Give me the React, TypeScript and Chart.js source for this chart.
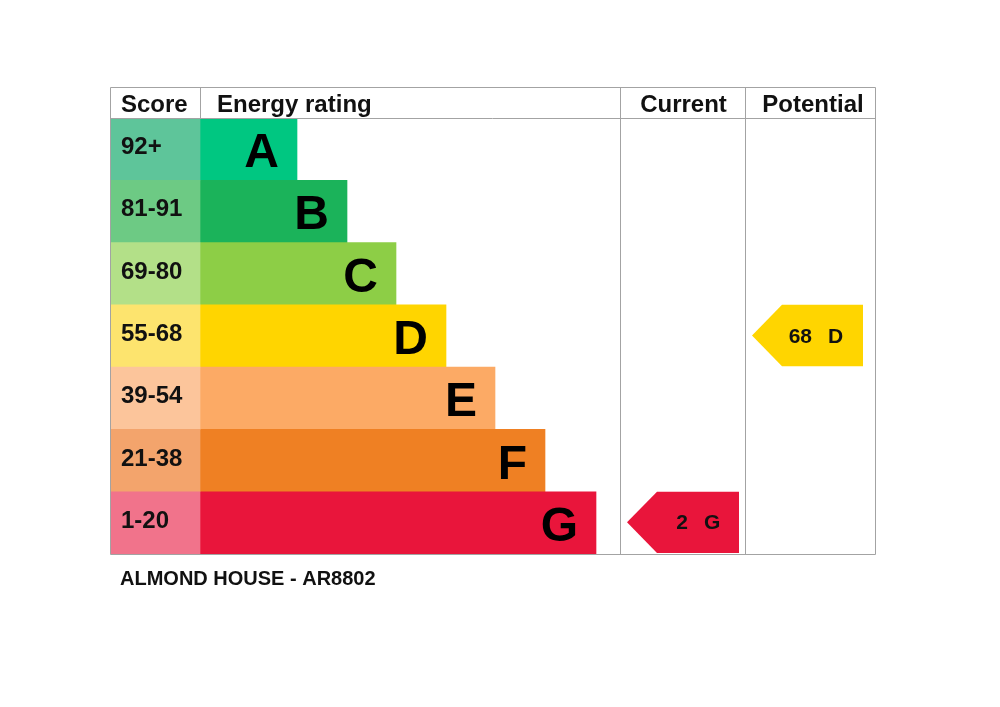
import React, { useEffect, useRef } from "react";
import { Chart, registerables } from "chart.js";
Chart.register(...registerables);

const categories = ["A", "B", "C", "D", "E", "F", "G"];
const scoreLabels = ["92+", "81-91", "69-80", "55-68", "39-54", "21-38", "1-20"];
const bandMins = [92, 81, 69, 55, 39, 21, 1];
const barLengths = [97, 147, 196, 246, 295, 345, 396];
const columnEdges = [0, 90, 510, 635, 765];
const headerLabels = ["Score", "Energy rating", "Current", "Potential"];
const currentScore = 2;
const potentialScore = 68;
const caption = "ALMOND HOUSE - AR8802";
const barColors = ["#00c781", "#1bb35a", "#8dce46", "#ffd500", "#fcaa65", "#ef8023", "#e9153b"];
const scoreColors = ["#5ec59a", "#6dca84", "#b3e088", "#fde46e", "#fcc59b", "#f3a46c", "#f1738b"];

const FONT = '"Liberation Sans", Arial, sans-serif';

function bandIndex(score: number) {
  for (let i = 0; i < bandMins.length; i++) if (score >= bandMins[i]) return i;
  return bandMins.length - 1;
}

const tablePlugin = {
  id: "epcTable",
  afterDatasetsDraw(chart: any) {
    const { ctx, chartArea, scales } = chart;
    const xs = scales.x;
    const px = (v: number) => Math.round(xs.getPixelForValue(v));
    const top = Math.round(chartArea.top);
    const bottom = Math.round(chartArea.bottom);
    const headerTop = top - 31;
    const left = px(columnEdges[0]);
    const right = px(columnEdges[columnEdges.length - 1]);
    const bandH = (chartArea.bottom - chartArea.top) / categories.length;
    ctx.save();

    // score labels
    ctx.fillStyle = "#111";
    ctx.font = `bold 24px ${FONT}`;
    ctx.textAlign = "left";
    ctx.textBaseline = "alphabetic";
    const scoreMeta = chart.getDatasetMeta(0);
    scoreLabels.forEach((s, i) => {
      const el = scoreMeta.data[i];
      ctx.fillText(s, px(columnEdges[0]) + 11, el.y + 5);
    });

    // letters on bars
    const barMeta = chart.getDatasetMeta(1);
    ctx.font = `bold 48px ${FONT}`;
    ctx.textAlign = "right";
    ctx.fillStyle = "#000";
    categories.forEach((c, i) => {
      const el = barMeta.data[i];
      ctx.fillText(c, el.x - 18, el.y + 18);
    });

    // table lines
    ctx.strokeStyle = "#a3a3a3";
    ctx.lineWidth = 1;
    ctx.beginPath();
    ctx.rect(left + 0.5, headerTop + 0.5, right - left, bottom - headerTop);
    ctx.moveTo(left, top + 0.5);
    ctx.lineTo(right, top + 0.5);
    ctx.moveTo(px(columnEdges[1]) + 0.5, headerTop);
    ctx.lineTo(px(columnEdges[1]) + 0.5, top);
    for (let k = 2; k < columnEdges.length - 1; k++) {
      ctx.moveTo(px(columnEdges[k]) + 0.5, headerTop);
      ctx.lineTo(px(columnEdges[k]) + 0.5, bottom);
    }
    ctx.stroke();

    // header texts
    ctx.fillStyle = "#111";
    ctx.font = `bold 24px ${FONT}`;
    ctx.textAlign = "left";
    ctx.fillText(headerLabels[0], px(columnEdges[0]) + 11, top - 6);
    ctx.fillText(headerLabels[1], px(columnEdges[1]) + 17, top - 6);
    ctx.textAlign = "center";
    ctx.fillText(headerLabels[2], (px(columnEdges[2]) + px(columnEdges[3])) / 2 + 1, top - 6);
    ctx.fillText(headerLabels[3], (px(columnEdges[3]) + px(columnEdges[4])) / 2 + 3, top - 6);

    // arrows
    const drawArrow = (score: number, colStart: number, colEnd: number, padL: number, padR: number) => {
      const i = bandIndex(score);
      const bt = chartArea.top + i * bandH;
      const bb = chartArea.top + (i + 1) * bandH - 1;
      const cy = (bt + bb) / 2;
      const l = px(colStart) + padL;
      const r = px(colEnd) - padR;
      ctx.fillStyle = barColors[i];
      ctx.beginPath();
      ctx.moveTo(l, cy);
      ctx.lineTo(l + 30, bt);
      ctx.lineTo(r, bt);
      ctx.lineTo(r, bb);
      ctx.lineTo(l + 30, bb);
      ctx.closePath();
      ctx.fill();
      ctx.fillStyle = "#111";
      ctx.font = `bold 21px ${FONT}`;
      ctx.textAlign = "right";
      ctx.fillText(String(score), r - 51, cy + 7);
      ctx.textAlign = "left";
      ctx.fillText(categories[i], r - 35, cy + 7);
    };
    drawArrow(currentScore, columnEdges[2], columnEdges[3], 7, 6);
    drawArrow(potentialScore, columnEdges[3], columnEdges[4], 7, 12);

    // caption
    ctx.fillStyle = "#111";
    ctx.font = `bold 20px ${FONT}`;
    ctx.textAlign = "left";
    ctx.fillText(caption, px(columnEdges[0]) + 10, bottom + 31);

    ctx.restore();
  },
};

export default function App() {
  const ref = useRef<HTMLCanvasElement | null>(null);
  useEffect(() => {
    if (!ref.current) return;
    const chart = new Chart(ref.current, {
      type: "bar",
      data: {
        labels: categories,
        datasets: [
          {
            data: categories.map(() => [columnEdges[0], columnEdges[1]]) as any,
            backgroundColor: scoreColors,
            borderWidth: 0,
            grouped: false,
            barPercentage: 1,
            categoryPercentage: 1,
          } as any,
          {
            data: barLengths.map((l) => [columnEdges[1], columnEdges[1] + l]) as any,
            backgroundColor: barColors,
            borderWidth: 0,
            grouped: false,
            barPercentage: 1,
            categoryPercentage: 1,
          } as any,
        ],
      },
      options: {
        indexAxis: "y",
        responsive: false,
        animation: false,
        layout: { padding: { left: 110, right: 125, top: 118, bottom: 153 } },
        scales: {
          x: { type: "linear", min: columnEdges[0], max: columnEdges[columnEdges.length - 1], display: false },
          y: { type: "category", display: false },
        },
        plugins: { legend: { display: false }, tooltip: { enabled: false }, title: { display: false } },
      } as any,
      plugins: [tablePlugin],
    });
    return () => chart.destroy();
  }, []);
  return (
    <div style={{ position: "absolute", left: 0, top: 0, width: 1000, height: 707, background: "#fff" }}>
      <canvas ref={ref} width={1000} height={707} style={{ display: "block" }} />
    </div>
  );
}
